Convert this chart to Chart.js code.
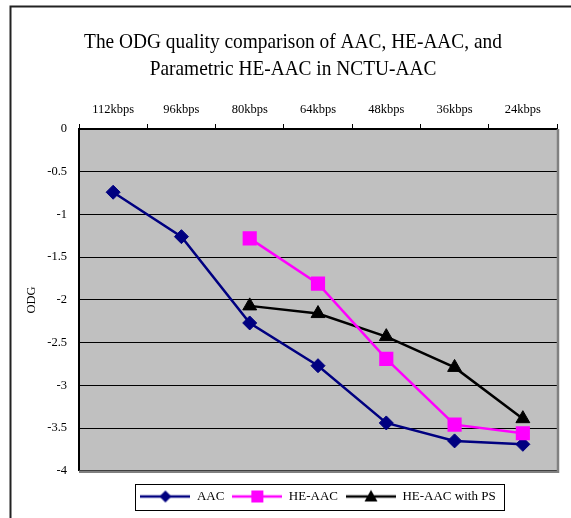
<!DOCTYPE html>
<html lang="en">
<head>
    <meta charset="UTF-8">
    <title>ODG quality comparison</title>
    <script src="https://cdn.jsdelivr.net/npm/chart.js"></script>
    <style>
        body { margin: 0; background: #fff; }
        canvas { display: block; }
    </style>
</head>
<body>
    <canvas id="odgChart" width="571" height="518"></canvas>

    <script>
        // chart data
        const titleLines = ['The ODG quality comparison of AAC, HE-AAC, and', 'Parametric HE-AAC in NCTU-AAC'];
        const bitrates = ['112kbps', '96kbps', '80kbps', '64kbps', '48kbps', '36kbps', '24kbps'];
        const odgTicks = [0, -0.5, -1, -1.5, -2, -2.5, -3, -3.5, -4];
        const aac = [-0.74, -1.26, -2.27, -2.77, -3.44, -3.65, -3.69];
        const heAac = [null, null, -1.28, -1.81, -2.69, -3.46, -3.56];
        const heAacPs = [null, null, -2.07, -2.16, -2.43, -2.79, -3.39];

        const serif = '"Liberation Serif", "Times New Roman", serif';
        Chart.defaults.font.family = serif;
        Chart.defaults.color = '#000';

        // little line+marker icons for the legend
        function legendIcon(color, shape) {
            const c = document.createElement('canvas');
            c.width = 50; c.height = 16;
            const g = c.getContext('2d');
            g.strokeStyle = color;
            g.fillStyle = color;
            g.lineWidth = 2.5;
            g.beginPath(); g.moveTo(0, 8); g.lineTo(50, 8); g.stroke();
            g.beginPath();
            if (shape === 'diamond') {
                g.moveTo(25, 2); g.lineTo(31, 8); g.lineTo(25, 14); g.lineTo(19, 8);
            } else if (shape === 'square') {
                g.rect(19, 2, 12, 12);
            } else {
                g.moveTo(25, 1.5); g.lineTo(31.5, 13); g.lineTo(18.5, 13);
            }
            g.closePath(); g.fill();
            return c;
        }
        const legendIcons = [
            legendIcon('#000080', 'diamond'),
            legendIcon('#FF00FF', 'square'),
            legendIcon('#000000', 'triangle')
        ];

        const framePlugin = {
            id: 'frame',
            beforeDraw(chart) {
                const { ctx, chartArea: a } = chart;
                ctx.save();
                ctx.fillStyle = '#C0C0C0';
                ctx.fillRect(a.left, a.top, a.right - a.left, a.bottom - a.top);
                ctx.restore();
            },
            beforeDatasetsDraw(chart) {
                const { ctx, chartArea: a } = chart;
                ctx.save();
                ctx.strokeStyle = '#808080';
                ctx.lineWidth = 2.5;
                ctx.beginPath();
                ctx.moveTo(a.right + 1, a.top);
                ctx.lineTo(a.right + 1, a.bottom + 1);
                ctx.lineTo(a.left, a.bottom + 1);
                ctx.stroke();
                ctx.restore();
            },
            afterDraw(chart) {
                const ctx = chart.ctx;
                ctx.save();
                // outer frame (top and left edges only)
                ctx.strokeStyle = '#222';
                ctx.lineWidth = 2;
                ctx.beginPath();
                ctx.moveTo(571, 6.5);
                ctx.lineTo(10.5, 6.5);
                ctx.lineTo(10.5, 518);
                ctx.stroke();

                // title, slightly condensed like the original
                ctx.fillStyle = '#000';
                ctx.font = '22px ' + serif;
                ctx.textAlign = 'center';
                ctx.textBaseline = 'alphabetic';
                titleLines.forEach((line, i) => {
                    ctx.save();
                    ctx.translate(293, 48 + i * 27);
                    ctx.scale(0.88, 1);
                    ctx.fillText(line, 0, 0);
                    ctx.restore();
                });

                // legend box
                const boxes = chart.legend.legendHitBoxes;
                if (boxes && boxes.length) {
                    const left = Math.min(...boxes.map(b => b.left)) - 5;
                    const right = Math.max(...boxes.map(b => b.left + b.width)) + 9;
                    const mid = boxes[0].top + boxes[0].height / 2;
                    ctx.strokeStyle = '#000';
                    ctx.lineWidth = 1;
                    ctx.strokeRect(Math.round(left) + 0.5, Math.round(mid - 13) + 0.5, Math.round(right - left), 26);
                }
                ctx.restore();
            }
        };

        new Chart(document.getElementById('odgChart').getContext('2d'), {
            type: 'line',
            data: {
                labels: bitrates,
                datasets: [
                    {
                        label: 'AAC',
                        data: aac,
                        borderColor: '#000080',
                        backgroundColor: '#000080',
                        borderWidth: 2.5,
                        pointStyle: 'rectRot',
                        pointRadius: 7,
                        pointBorderWidth: 1,
                        order: 3
                    },
                    {
                        label: 'HE-AAC',
                        data: heAac,
                        borderColor: '#FF00FF',
                        backgroundColor: '#FF00FF',
                        borderWidth: 2.5,
                        pointStyle: 'rect',
                        pointRadius: 10,
                        pointBorderWidth: 0,
                        order: 1
                    },
                    {
                        label: 'HE-AAC with PS',
                        data: heAacPs,
                        borderColor: '#000000',
                        backgroundColor: '#000000',
                        borderWidth: 2.5,
                        pointStyle: 'triangle',
                        pointRadius: 8,
                        pointBorderWidth: 1,
                        order: 2
                    }
                ]
            },
            options: {
                responsive: false,
                animation: false,
                layout: { padding: { left: 20, right: 14, top: 95, bottom: 5 } },
                elements: { line: { tension: 0 } },
                plugins: {
                    tooltip: { enabled: false },
                    legend: {
                        position: 'bottom',
                        fullSize: false,
                        title: { display: true, text: '', padding: { top: 10, bottom: 0 }, font: { size: 1 } },
                        labels: {
                            font: { size: 13 },
                            color: '#000',
                            usePointStyle: true,
                            pointStyleWidth: 50,
                            padding: 8,
                            sort: (a, b) => a.datasetIndex - b.datasetIndex,
                            generateLabels(chart) {
                                const items = Chart.defaults.plugins.legend.labels.generateLabels(chart);
                                items.forEach(it => { it.pointStyle = legendIcons[it.datasetIndex]; });
                                return items;
                            }
                        }
                    }
                },
                scales: {
                    x: {
                        position: 'top',
                        offset: true,
                        grid: { offset: true, drawOnChartArea: false, drawTicks: true, tickLength: 5, color: '#000', lineWidth: 1 },
                        border: { display: true, color: '#000', width: 2 },
                        ticks: { font: { size: 12.5 }, color: '#000', padding: 7, maxRotation: 0 }
                    },
                    y: {
                        min: -4,
                        max: 0,
                        afterBuildTicks(scale) { scale.ticks = odgTicks.map(v => ({ value: v })); },
                        afterFit(scale) { scale.width = 59; },
                        grid: { color: '#000', lineWidth: 1, drawTicks: false },
                        border: { display: true, color: '#000', width: 2 },
                        ticks: { font: { size: 12.5 }, color: '#000', padding: 12, callback: v => String(v) },
                        title: { display: true, text: 'ODG', font: { size: 12.5 }, color: '#000', padding: { top: 4, bottom: 8 } }
                    }
                }
            },
            plugins: [framePlugin]
        });
    </script>
</body>
</html>
